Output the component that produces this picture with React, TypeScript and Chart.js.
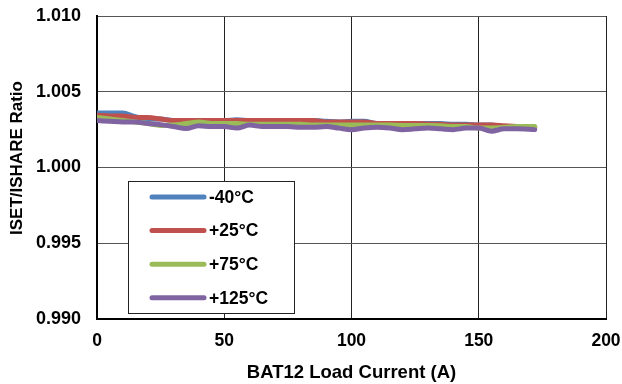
import React, { useEffect, useRef } from "react";
import { Chart, registerables } from "chart.js";

Chart.register(...registerables);

const loadCurrent = [0, 5, 10, 15, 20, 25, 30, 35, 40, 45, 50, 55, 60, 65, 70, 75, 80, 85, 90, 95, 100, 105, 110, 115, 120, 125, 130, 135, 140, 145, 150, 155, 160, 165, 172];

const seriesM40 = [1.0036, 1.0036, 1.0036, 1.00335, 1.0032, 1.0032, 1.0031, 1.0031, 1.0031, 1.0031, 1.0031, 1.00315, 1.0031, 1.0031, 1.0031, 1.0031, 1.0031, 1.0031, 1.00305, 1.003, 1.00305, 1.00305, 1.0029, 1.0029, 1.0029, 1.0029, 1.0029, 1.0029, 1.00285, 1.00285, 1.0028, 1.0028, 1.0027, 1.0027, 1.0026];
const seriesP25 = [1.00345, 1.0034, 1.0034, 1.0033, 1.0033, 1.0032, 1.0031, 1.0031, 1.0031, 1.0031, 1.0031, 1.0031, 1.0031, 1.0031, 1.0031, 1.0031, 1.0031, 1.0031, 1.003, 1.003, 1.003, 1.003, 1.0029, 1.0029, 1.0029, 1.0029, 1.00287, 1.00285, 1.0028, 1.0028, 1.0028, 1.0028, 1.00275, 1.0027, 1.00265];
const seriesP75 = [1.0033, 1.0032, 1.0031, 1.003, 1.0029, 1.00277, 1.0028, 1.0029, 1.003, 1.0029, 1.0029, 1.0029, 1.00285, 1.00285, 1.00285, 1.00285, 1.00285, 1.0028, 1.0028, 1.0028, 1.0028, 1.0028, 1.0028, 1.0028, 1.00278, 1.00278, 1.00278, 1.00275, 1.0027, 1.0027, 1.0026, 1.0026, 1.00265, 1.0027, 1.0027];
const seriesP125 = [1.0031, 1.00305, 1.003, 1.003, 1.0029, 1.00283, 1.0027, 1.00257, 1.00276, 1.0027, 1.0027, 1.0026, 1.0028, 1.0027, 1.0027, 1.0027, 1.00265, 1.00265, 1.0027, 1.0026, 1.0025, 1.0026, 1.00265, 1.0026, 1.0025, 1.00255, 1.0026, 1.00255, 1.0025, 1.0026, 1.0026, 1.0024, 1.00255, 1.00255, 1.0025];

const seriesLabels = ["-40°C", "+25°C", "+75°C", "+125°C"];
const seriesColors = ["#4F81BD", "#C0504D", "#9BBB59", "#8064A2"];
const xTitle = "BAT12 Load Current (A)";
const yTitle = "ISET/ISHARE Ratio";

const FONT = "'Liberation Sans', Arial, sans-serif";

const customPlugin = {
  id: "customDecor",
  afterDraw(chart: any) {
    const ctx = chart.ctx;
    const ca = chart.chartArea;
    ctx.save();
    ctx.fillStyle = "#000";
    ctx.font = `bold 17px ${FONT}`;
    ctx.textAlign = "center";
    ctx.textBaseline = "middle";
    ctx.translate(17, 158);
    ctx.rotate(-Math.PI / 2);
    ctx.fillText(yTitle, 0, 0);
    ctx.restore();

    ctx.save();
    const bx = ca.left + 31;
    const by = ca.top + 165;
    const bw = 166;
    const bh = 132;
    ctx.fillStyle = "#fff";
    ctx.fillRect(bx, by, bw, bh);
    ctx.strokeStyle = "#222";
    ctx.lineWidth = 1;
    ctx.strokeRect(bx + 0.5, by + 0.5, bw, bh);
    chart.data.datasets.forEach((ds: any, i: number) => {
      const yy = by + 16 + i * 33.6;
      ctx.strokeStyle = ds.borderColor;
      ctx.lineWidth = 5;
      ctx.lineCap = "round";
      ctx.beginPath();
      ctx.moveTo(bx + 24, yy);
      ctx.lineTo(bx + 76, yy);
      ctx.stroke();
      ctx.fillStyle = "#000";
      ctx.font = `bold 17.5px ${FONT}`;
      ctx.textAlign = "left";
      ctx.textBaseline = "middle";
      ctx.fillText(ds.label, bx + 81, yy + 1);
    });
    ctx.restore();
  },
};

export default function App() {
  const ref = useRef<HTMLCanvasElement | null>(null);
  useEffect(() => {
    if (!ref.current) return;
    const allSeries = [seriesM40, seriesP25, seriesP75, seriesP125];
    const chart = new Chart(ref.current, {
      type: "line",
      data: {
        datasets: allSeries.map((s, i) => ({
          label: seriesLabels[i],
          data: loadCurrent.map((x, j) => ({ x, y: s[j] })),
          borderColor: seriesColors[i],
          backgroundColor: seriesColors[i],
          borderWidth: 5,
          pointRadius: 0,
          tension: 0.4,
          cubicInterpolationMode: "monotone",
          order: 4 - i,
          borderCapStyle: "round",
          borderJoinStyle: "round",
        })) as any,
      },
      options: {
        animation: false,
        responsive: false,
        maintainAspectRatio: false,
        layout: { padding: { top: 16, right: 16, left: 0, bottom: 0 } },
        plugins: {
          legend: { display: false },
          tooltip: { enabled: false },
        },
        scales: {
          x: {
            type: "linear",
            min: 0,
            max: 200,
            ticks: {
              stepSize: 50,
              padding: 12,
              color: "#000",
              font: { family: FONT, size: 17.5, weight: "bold" },
            },
            grid: { color: "#222", lineWidth: 1, drawTicks: false },
            border: { color: "#000", width: 2 },
            title: {
              display: true,
              text: xTitle,
              color: "#000",
              font: { family: FONT, size: 18.5, weight: "bold" },
              padding: { top: 3, bottom: 0 },
            },
            afterFit(scale: any) {
              scale.height = 65;
              scale.paddingLeft = 0;
              scale.paddingRight = 0;
            },
          },
          y: {
            type: "linear",
            min: 0.99,
            max: 1.01,
            ticks: {
              stepSize: 0.005,
              padding: 16,
              color: "#000",
              font: { family: FONT, size: 18, weight: "bold" },
              callback: (v: any) => Number(v).toFixed(3),
            },
            grid: { color: "#555", lineWidth: 1, drawTicks: false },
            border: { color: "#000", width: 2 },
            afterFit(scale: any) {
              scale.width = 97;
              scale.paddingTop = 0;
              scale.paddingBottom = 0;
            },
          },
        },
      } as any,
      plugins: [customPlugin],
    });
    return () => chart.destroy();
  }, []);
  return (
    <div style={{ position: "fixed", left: 0, top: 0, width: 622, height: 384, background: "#fff" }}>
      <canvas ref={ref} width={622} height={384} style={{ width: 622, height: 384 }} />
    </div>
  );
}
